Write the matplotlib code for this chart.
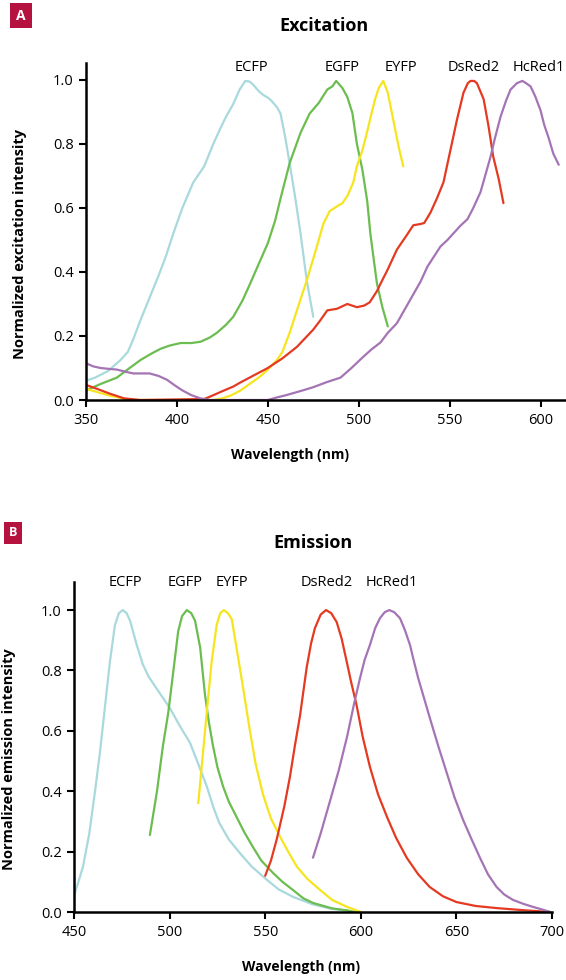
import matplotlib
matplotlib.use("Agg")
import matplotlib.pyplot as plt

plt.rcParams["font.family"] = ["Open Sans", "DejaVu Sans"]

# --- DATA: excitation spectra (wavelength nm, normalized intensity) ---
ex_ecfp_x = [350, 355, 362, 369, 373, 376, 380, 385, 390, 394, 398, 403, 409, 415, 420, 424, 427, 431, 434.5, 437.6,
             440, 442, 445, 447.5, 450, 452, 455, 457, 459.6, 462, 465, 468, 471.5, 475]
ex_ecfp_y = [0.06, 0.07, 0.09, 0.125, 0.15, 0.19, 0.25, 0.32, 0.39, 0.45, 0.52, 0.60, 0.68, 0.73, 0.80, 0.85, 0.885, 0.925,
             0.97, 0.997, 0.995, 0.985, 0.965, 0.953, 0.945, 0.935, 0.915, 0.895, 0.82, 0.74, 0.635, 0.52, 0.37, 0.26]

ex_egfp_x = [350, 358, 367, 374, 380, 386, 391, 396, 402, 408, 413, 418, 422, 427, 431, 436, 440, 445, 450, 454, 457, 462,
             468, 473, 478, 482.7, 485.5, 487.6, 491, 493.7, 496.5, 499, 502, 504.7, 506.4, 508, 510, 513, 516]
ex_egfp_y = [0.03, 0.05, 0.07, 0.10, 0.125, 0.145, 0.16, 0.17, 0.178, 0.178, 0.182, 0.195, 0.21, 0.235, 0.26, 0.31, 0.36,
             0.425, 0.49, 0.56, 0.63, 0.74, 0.835, 0.895, 0.928, 0.97, 0.98, 0.997, 0.975, 0.947, 0.897, 0.80, 0.72, 0.62,
             0.52, 0.45, 0.365, 0.29, 0.23]

ex_eyfp_x = [350, 356, 362, 370, 375, 420, 425, 430, 435, 440, 445, 450, 455, 458, 462, 466, 471.5, 477, 480.5, 484, 488,
             491, 494, 497, 499, 502, 504.7, 507, 509, 511, 513.5, 516, 519, 522, 524.5]
ex_eyfp_y = [0.035, 0.025, 0.015, 0.005, 0.0, 0.0, 0.005, 0.015, 0.03, 0.05, 0.07, 0.095, 0.125, 0.15, 0.21, 0.28, 0.375,
             0.48, 0.55, 0.59, 0.605, 0.615, 0.64, 0.68, 0.73, 0.78, 0.84, 0.895, 0.94, 0.975, 0.997, 0.96, 0.875, 0.79, 0.73]

ex_dsred_x = [350, 356, 363, 371, 380, 415, 418, 422, 426, 431, 435, 440, 445, 450, 454, 458, 462, 466, 470, 475, 479,
              482.7, 488, 493.7, 499, 503, 506, 510, 513, 515.7, 521, 527, 530, 534, 536, 539.4, 543, 546.6, 550.4, 554,
              557.6, 560, 561.5, 563.5, 565, 568.7, 571.4, 574, 577, 579.6]
ex_dsred_y = [0.047, 0.035, 0.02, 0.005, 0.0, 0.003, 0.01, 0.02, 0.03, 0.042, 0.055, 0.07, 0.085, 0.10, 0.115, 0.13, 0.148,
              0.166, 0.19, 0.22, 0.25, 0.28, 0.285, 0.30, 0.29, 0.295, 0.305, 0.34, 0.375, 0.405, 0.47, 0.52, 0.546, 0.55,
              0.553, 0.585, 0.63, 0.68, 0.78, 0.875, 0.96, 0.99, 0.997, 0.997, 0.99, 0.94, 0.855, 0.76, 0.69, 0.615]

ex_hcred_x = [350, 354, 358, 363, 367, 372, 376, 385, 390, 394.6, 399, 403, 408, 413, 418, 450, 455, 460, 468, 475, 482,
              490, 496, 502.5, 507, 512, 516, 521, 525, 530, 534, 537.8, 541, 545, 548.8, 552, 556, 559.8, 563, 567, 570,
              572.5, 575, 578, 581, 583.5, 587, 590, 592, 594.5, 597, 600, 602, 604.4, 607, 610]
ex_hcred_y = [0.115, 0.105, 0.10, 0.097, 0.095, 0.088, 0.083, 0.083, 0.075, 0.063, 0.045, 0.03, 0.015, 0.005, 0.0, 0.0,
              0.008, 0.015, 0.028, 0.04, 0.055, 0.07, 0.10, 0.135, 0.158, 0.18, 0.21, 0.24, 0.28, 0.33, 0.37, 0.417, 0.445,
              0.48, 0.50, 0.52, 0.545, 0.565, 0.60, 0.65, 0.71, 0.76, 0.82, 0.885, 0.935, 0.97, 0.99, 0.997, 0.99, 0.98,
              0.95, 0.905, 0.86, 0.82, 0.77, 0.735]

# --- DATA: emission spectra ---
em_ecfp_x = [450.5, 454.7, 458, 461, 463.6, 465.5, 468.8, 471.4, 473.5, 475.5, 477.5, 479.3, 482.8, 486, 489, 493.2, 500.2,
             505, 510.7, 515, 519.5, 523, 526, 531, 536.8, 543, 551, 557, 564.6, 575, 585, 593]
em_ecfp_y = [0.063, 0.15, 0.26, 0.40, 0.53, 0.64, 0.83, 0.95, 0.99, 1.0, 0.99, 0.965, 0.885, 0.82, 0.78, 0.74, 0.675,
             0.62, 0.56, 0.49, 0.415, 0.345, 0.295, 0.24, 0.195, 0.15, 0.106, 0.075, 0.05, 0.025, 0.01, 0.005]

em_egfp_x = [489.7, 493.4, 496.5, 499.3, 501.9, 504.5, 506.5, 509, 511.3, 513.3, 516, 518.5, 520.5, 522.7, 525, 528, 531,
             535, 539, 543.6, 548, 554, 559, 564.5, 570, 575, 585, 593, 597]
em_egfp_y = [0.255, 0.40, 0.55, 0.66, 0.795, 0.93, 0.98, 1.0, 0.99, 0.965, 0.875, 0.72, 0.63, 0.55, 0.48, 0.415, 0.365,
             0.315, 0.265, 0.215, 0.17, 0.13, 0.10, 0.073, 0.045, 0.03, 0.012, 0.005, 0.0]

em_eyfp_x = [515, 517.5, 519.4, 522, 524.6, 526.5, 528.4, 530.5, 532.5, 535, 538.5, 542, 545, 548.8, 553, 557.7, 562,
             566.6, 572, 578.7, 585, 592.8, 600]
em_eyfp_y = [0.36, 0.53, 0.66, 0.83, 0.95, 0.99, 1.0, 0.99, 0.97, 0.875, 0.74, 0.60, 0.49, 0.39, 0.31, 0.25, 0.20, 0.15,
             0.11, 0.073, 0.04, 0.017, 0.0]

em_dsred_x = [550, 553, 556, 560, 563, 565.5, 568.2, 571.7, 574, 576, 579, 581.8, 584.5, 587.4, 590, 592.6, 595, 597.8,
              601, 604.8, 609, 613.7, 618.5, 624, 630, 636, 643, 650, 660, 671, 685, 699]
em_dsred_y = [0.12, 0.17, 0.24, 0.35, 0.45, 0.55, 0.65, 0.81, 0.89, 0.94, 0.985, 1.0, 0.99, 0.96, 0.905, 0.83, 0.76, 0.685,
              0.58, 0.48, 0.39, 0.315, 0.245, 0.18, 0.125, 0.083, 0.052, 0.033, 0.02, 0.013, 0.006, 0.0]

em_hcred_x = [575, 579, 584, 588.5, 592.8, 596.5, 599.6, 602, 604.8, 607.5, 610, 612.5, 614.9, 617.5, 620.5, 623, 625.7,
              628, 630, 633, 636, 640.5, 645, 649, 653.5, 658, 662.3, 666.5, 671, 675, 679.6, 685, 690, 695, 699]
em_hcred_y = [0.18, 0.26, 0.37, 0.47, 0.58, 0.69, 0.775, 0.835, 0.885, 0.94, 0.973, 0.993, 1.0, 0.993, 0.973, 0.935,
              0.885, 0.825, 0.775, 0.71, 0.645, 0.55, 0.46, 0.38, 0.305, 0.24, 0.18, 0.125, 0.083, 0.058, 0.04, 0.027,
              0.017, 0.008, 0.0]

names = ["ECFP", "EGFP", "EYFP", "DsRed2", "HcRed1"]
colors = ["#A9D9DD", "#6CBD4F", "#F6E51E", "#E53A22", "#A574B4"]
ex_label_x = [441, 491, 523, 563, 599]
em_label_x = [476.7, 508, 532.6, 582.3, 616.3]

excitation = [(ex_ecfp_x, ex_ecfp_y), (ex_egfp_x, ex_egfp_y), (ex_eyfp_x, ex_eyfp_y),
              (ex_dsred_x, ex_dsred_y), (ex_hcred_x, ex_hcred_y)]
emission = [(em_ecfp_x, em_ecfp_y), (em_egfp_x, em_egfp_y), (em_eyfp_x, em_eyfp_y),
            (em_dsred_x, em_dsred_y), (em_hcred_x, em_hcred_y)]

badge_color = "#B5123F"

fig = plt.figure(figsize=(5.66, 9.8), dpi=100)

W, H = 566.0, 980.0
axA = fig.add_axes([86 / W, 1 - 400 / H, 480 / W, 337 / H])
axB = fig.add_axes([74 / W, 1 - 912 / H, 478 / W, 330 / H])


def style_axes(ax):
    for s in ["top", "right"]:
        ax.spines[s].set_visible(False)
    for s in ["left", "bottom"]:
        ax.spines[s].set_linewidth(1.8)
    ax.tick_params(direction="out", length=5, width=1.5, labelsize=10.5, pad=4)
    ax.set_yticks([0.0, 0.2, 0.4, 0.6, 0.8, 1.0])
    ax.set_yticklabels(["0.0", "0.2", "0.4", "0.6", "0.8", "1.0"])


# --- Panel A: excitation ---
for (x, y), c in zip(excitation, colors):
    axA.plot(x, y, color=c, lw=1.6, solid_joinstyle="round", solid_capstyle="round")
for name, lx in zip(names, ex_label_x):
    axA.text(lx, 1.04, name, ha="center", va="center", fontsize=10.5, clip_on=False)
axA.set_xlim(350, 614)
axA.set_ylim(0, 1.053)
axA.set_xticks([350, 400, 450, 500, 550, 600])
style_axes(axA)
axA.set_xlabel("Wavelength (nm)", fontsize=10, fontweight="bold", va="center")
axA.xaxis.set_label_coords(0.425, -0.163)
axA.set_ylabel("Normalized excitation intensity", fontsize=10.5, fontweight="bold", va="center")
axA.yaxis.set_label_coords(-0.1375, 0.463)

# --- Panel B: emission ---
for (x, y), c in zip(emission, colors):
    axB.plot(x, y, color=c, lw=1.6, solid_joinstyle="round", solid_capstyle="round")
for name, lx in zip(names, em_label_x):
    axB.text(lx, 1.09, name, ha="center", va="center", fontsize=10.5, clip_on=False)
axB.set_xlim(450, 700)
axB.set_ylim(0, 1.093)
axB.set_xticks([450, 500, 550, 600, 650, 700])
style_axes(axB)
axB.set_xlabel("Wavelength (nm)", fontsize=10, fontweight="bold", va="center")
axB.xaxis.set_label_coords(0.475, -0.167)
axB.set_ylabel("Normalized emission intensity", fontsize=10.5, fontweight="bold", va="center")
axB.yaxis.set_label_coords(-0.136, 0.464)

# --- titles and panel badges ---
fig.text(324 / W, 1 - 26 / H, "Excitation", ha="center", va="center", fontsize=13, fontweight="bold")
fig.text(313 / W, 1 - 543 / H, "Emission", ha="center", va="center", fontsize=13, fontweight="bold")
fig.text(21 / W, 1 - 15.5 / H, "A", ha="center", va="center", fontsize=10, fontweight="bold", color="white",
         bbox=dict(boxstyle="square,pad=0.42", facecolor=badge_color, edgecolor="none"))
fig.text(13 / W, 1 - 533 / H, "B", ha="center", va="center", fontsize=9, fontweight="bold", color="white",
         bbox=dict(boxstyle="square,pad=0.35", facecolor=badge_color, edgecolor="none"))

fig.savefig("out.png", dpi=100)
